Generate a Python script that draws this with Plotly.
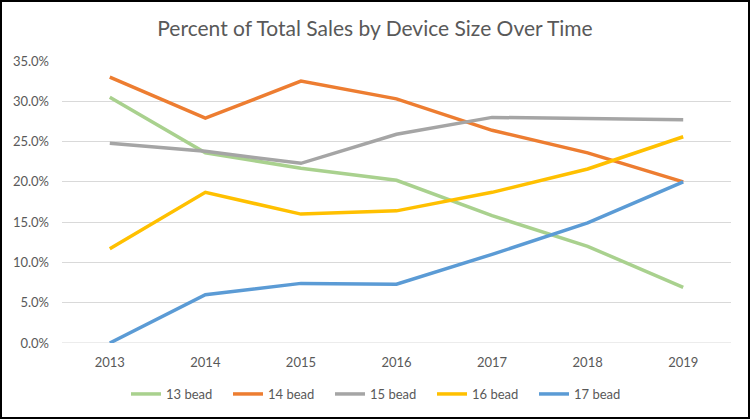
import plotly.graph_objects as go

years = ["2013", "2014", "2015", "2016", "2017", "2018", "2019"]
bead13 = [30.5, 23.6, 21.7, 20.2, 15.8, 12.0, 6.9]
bead14 = [33.0, 27.9, 32.5, 30.3, 26.4, 23.6, 20.0]
bead15 = [24.8, 23.8, 22.3, 25.9, 28.0, 27.9, 27.7]
bead16 = [11.7, 18.7, 16.0, 16.4, 18.7, 21.6, 25.6]
bead17 = [0.0, 6.0, 7.4, 7.3, 11.0, 14.9, 20.0]
series_names = ["13 bead", "14 bead", "15 bead", "16 bead", "17 bead"]
series_vals = [bead13, bead14, bead15, bead16, bead17]
colors = ["#A9D18E", "#ED7D31", "#A5A5A5", "#FFC000", "#5B9BD5"]
y_ticks = [0, 5, 10, 15, 20, 25, 30, 35]
y_labels = [f"{v:.1f}%" for v in y_ticks]

W, H = 750, 419
ml, mr, mt, mb = 62, 19, 61, 76

fig = go.Figure()
for name, vals, c in zip(series_names, series_vals, colors):
    fig.add_trace(go.Scatter(x=list(range(len(years))), y=vals, name=name, mode="lines",
                             line=dict(color=c, width=3.5)))

pw = W - ml - mr
ph = H - mt - mb
fig.add_shape(type="rect", xref="paper", yref="paper",
              x0=-(ml - 1) / pw, x1=1 + (mr - 1) / pw,
              y0=-(mb - 1) / ph, y1=1 + (mt - 1) / ph,
              line=dict(color="#000000", width=2), fillcolor="rgba(0,0,0,0)", layer="above")

fig.update_layout(
    width=W, height=H,
    margin=dict(l=ml, r=mr, t=mt, b=mb, autoexpand=False),
    paper_bgcolor="white", plot_bgcolor="white",
    font=dict(family="Lato, Carlito, sans-serif", color="#595959", size=13),
    title=dict(text="Percent of Total Sales by Device Size Over Time", x=0.5, xref="container",
               xanchor="center", y=1 - 29 / H, yanchor="middle",
               font=dict(size=21, color="#595959")),
    xaxis=dict(range=[-0.5, 6.5], tickmode="array", tickvals=list(range(len(years))),
               ticktext=years, showgrid=False, zeroline=False, showline=False, ticks="",
               fixedrange=True, ticklabelstandoff=10),
    yaxis=dict(range=[0, 35], tickmode="array", tickvals=y_ticks, ticktext=y_labels,
               showgrid=True, gridcolor="#D9D9D9", gridwidth=1, zeroline=False,
               showline=False, ticks="", ticklabelstandoff=12, fixedrange=True),
    legend=dict(orientation="h", x=126 / W, xanchor="left", xref="container", y=(H - 394) / H,
                yref="container", yanchor="middle", itemwidth=30, font=dict(size=13),
                entrywidth=57),
    showlegend=True,
)
fig.add_shape(type="line", xref="paper", yref="y", x0=0, x1=1, y0=0, y1=0,
              line=dict(color="#D9D9D9", width=1), layer="below")

fig.write_html("out.html", post_script="document.body.style.margin='0';",
               config={"displayModeBar": False})
